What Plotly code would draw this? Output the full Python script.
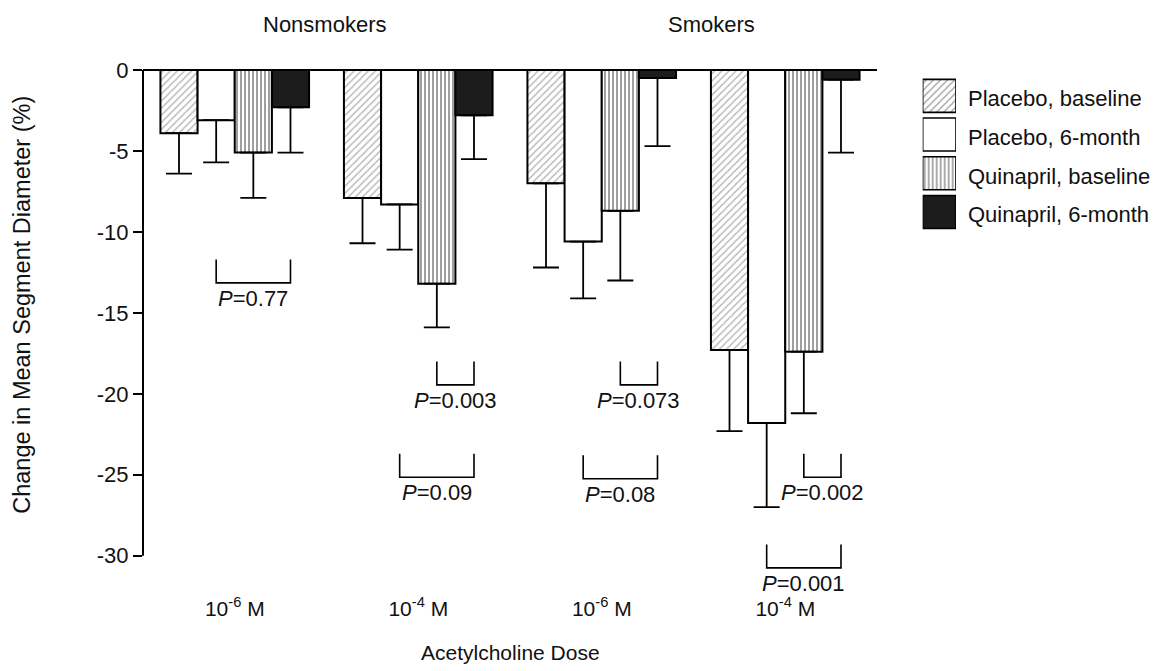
import plotly.graph_objects as go

# ---------------- data ----------------
doses = ["10<sup>-6</sup> M", "10<sup>-4</sup> M", "10<sup>-6</sup> M", "10<sup>-4</sup> M"]
groups = ["Nonsmokers", "Smokers"]
series = ["Placebo, baseline", "Placebo, 6-month", "Quinapril, baseline", "Quinapril, 6-month"]

placebo_base = [-3.9, -7.9, -7.0, -17.3]
placebo_base_err = [2.5, 2.8, 5.2, 5.0]
placebo_6m = [-3.1, -8.3, -10.6, -21.8]
placebo_6m_err = [2.6, 2.8, 3.5, 5.2]
quin_base = [-5.1, -13.2, -8.7, -17.4]
quin_base_err = [2.8, 2.7, 4.3, 3.8]
quin_6m = [-2.3, -2.8, -0.5, -0.6]
quin_6m_err = [2.8, 2.7, 4.2, 4.5]

# P-value comparisons: dose index, series a, series b, p label, bracket level
comp_dose = [0, 1, 1, 2, 2, 3, 3]
comp_a = [1, 2, 1, 2, 1, 2, 1]
comp_b = [3, 3, 3, 3, 3, 3, 3]
comp_p = ["0.77", "0.003", "0.09", "0.073", "0.08", "0.002", "0.001"]
comp_level = [-11.7, -18.0, -23.7, -18.0, -23.8, -23.7, -29.3]

y_ticks = [0, -5, -10, -15, -20, -25, -30]

values = [placebo_base, placebo_6m, quin_base, quin_6m]
errors = [placebo_base_err, placebo_6m_err, quin_base_err, quin_6m_err]

# ---------------- styles ----------------
FONT = "Liberation Sans, Arial, Helvetica, sans-serif"
fills = ["white", "white", "white", "#1c1c1c"]
pat_shapes = ["/", "", "|", ""]
pat_fg = ["#6a6a6a", "black", "#2a2a2a", "black"]
pat_size = [5, 8, 4, 8]
pat_sol = [0.28, 0.3, 0.45, 0.3]

BARGAP = 0.19
bar_w = (1 - BARGAP) / 4
offsets = [(-1.5 + i) * bar_w for i in range(4)]

OFF = 8  # page body margin
W, H = 1164 - OFF, 671 - OFF
ML, MR, MT, MB = 143 - OFF, 0, 70 - OFF, 91
plot_w = W - ML - MR
plot_h = H - MT - MB
main_dom = 734 / plot_w


def px_x(p):
    return (p - OFF - ML) / plot_w


def px_y(p):
    return (H - MB - (p - OFF)) / plot_h


fig = go.Figure()
xpos = list(range(len(doses)))
for i in range(4):
    fig.add_trace(go.Bar(
        x=xpos, y=values[i], name=series[i], showlegend=False,
        marker=dict(color=fills[i], line=dict(color="black", width=2),
                    pattern=dict(shape=pat_shapes[i], fgcolor=pat_fg[i], bgcolor=fills[i],
                                 size=pat_size[i], solidity=pat_sol[i], fillmode="overlay")),
        error_y=dict(type="data", symmetric=False, array=[0] * len(errors[i]),
                     arrayminus=errors[i], color="black", thickness=1.8, width=13),
        xaxis="x", yaxis="y",
    ))

# legend swatches drawn as bars in a small side subplot
fig.add_trace(go.Bar(
    x=[1, 1, 1, 1], y=[0, 1, 2, 3], orientation="h", width=0.853, base=0,
    showlegend=False, hoverinfo="skip",
    marker=dict(color=fills, line=dict(color="black", width=1.6),
                pattern=dict(shape=pat_shapes, fgcolor=pat_fg, bgcolor=fills,
                             size=pat_size, solidity=pat_sol, fillmode="overlay")),
    xaxis="x2", yaxis="y2",
))

shapes = []
# zero line
shapes.append(dict(type="line", xref="x domain", yref="paper", x0=0, x1=1, y0=1, y1=1,
                   line=dict(color="black", width=2)))
# y axis line from 0 to -30
shapes.append(dict(type="line", xref="x domain", yref="y", x0=0, x1=0, y0=y_ticks[-1], y1=0,
                   line=dict(color="black", width=2)))

annotations = []
depth = 1.45
for d, a, b, p, lev in zip(comp_dose, comp_a, comp_b, comp_p, comp_level):
    xa = d + offsets[a]
    xb = d + offsets[b]
    shapes.append(dict(type="path", xref="x", yref="y",
                       path=f"M {xa},{lev} L {xa},{lev - depth} L {xb},{lev - depth} L {xb},{lev}",
                       line=dict(color="black", width=1.6)))
    annotations.append(dict(x=(xa + xb) / 2, y=lev - depth, xref="x", yref="y",
                            text=f"<i>P</i>={p}", showarrow=False, xanchor="center",
                            yanchor="top", yshift=-1, font=dict(size=22, color="#111")))

# group titles
annotations.append(dict(x=0.49, y=px_y(24), xref="x", yref="paper", text=groups[0],
                        xanchor="center", yanchor="middle",
                        showarrow=False, font=dict(size=22, color="#111")))
annotations.append(dict(x=2.6, y=px_y(24), xref="x", yref="paper", text=groups[1],
                        xanchor="center", yanchor="middle",
                        showarrow=False, font=dict(size=22, color="#111")))
# axis titles
annotations.append(dict(x=px_x(22), y=-14.5, xref="paper", yref="y",
                        text="Change in Mean Segment Diameter (%)", textangle=-90,
                        xanchor="center", yanchor="middle",
                        showarrow=False, font=dict(size=23.5, color="#111")))
annotations.append(dict(x=1.5, y=px_y(652), xref="x", yref="paper", text="Acetylcholine Dose",
                        xanchor="center", yanchor="middle",
                        showarrow=False, font=dict(size=21, color="#111")))
# legend labels
for i, s in enumerate(series):
    annotations.append(dict(x=px_x(966), y=i, xref="paper", yref="y2", text=s,
                            xanchor="left", yanchor="middle", yshift=-3, showarrow=False,
                            font=dict(size=22, color="#111")))

fig.update_layout(
    width=W, height=H,
    margin=dict(l=ML, r=MR, t=MT, b=MB),
    paper_bgcolor="white", plot_bgcolor="white",
    barmode="group", bargap=BARGAP, bargroupgap=0,
    font=dict(family=FONT, color="#111", size=21),
    xaxis=dict(domain=[0, main_dom], range=[-0.5, 3.5], tickvals=xpos, ticktext=doses,
               showline=False, showgrid=False, zeroline=False, ticks="",
               ticklabelstandoff=14, tickfont=dict(size=21), anchor="y"),
    yaxis=dict(range=[-31.5, 0], tickvals=y_ticks, ticktext=[str(v) for v in y_ticks],
               showline=False, showgrid=False, zeroline=False, ticks="outside",
               ticklen=9, tickwidth=1.6, tickcolor="black", tickfont=dict(size=22),
               anchor="x"),
    xaxis2=dict(domain=[px_x(922.7), px_x(956)], range=[0, 1], visible=False,
                anchor="y2", fixedrange=True),
    yaxis2=dict(domain=[px_y(231.3), px_y(76.5)], range=[3.5, -0.5], visible=False,
                anchor="x2", fixedrange=True),
    shapes=shapes,
    annotations=annotations,
)

fig.write_html("out.html")
